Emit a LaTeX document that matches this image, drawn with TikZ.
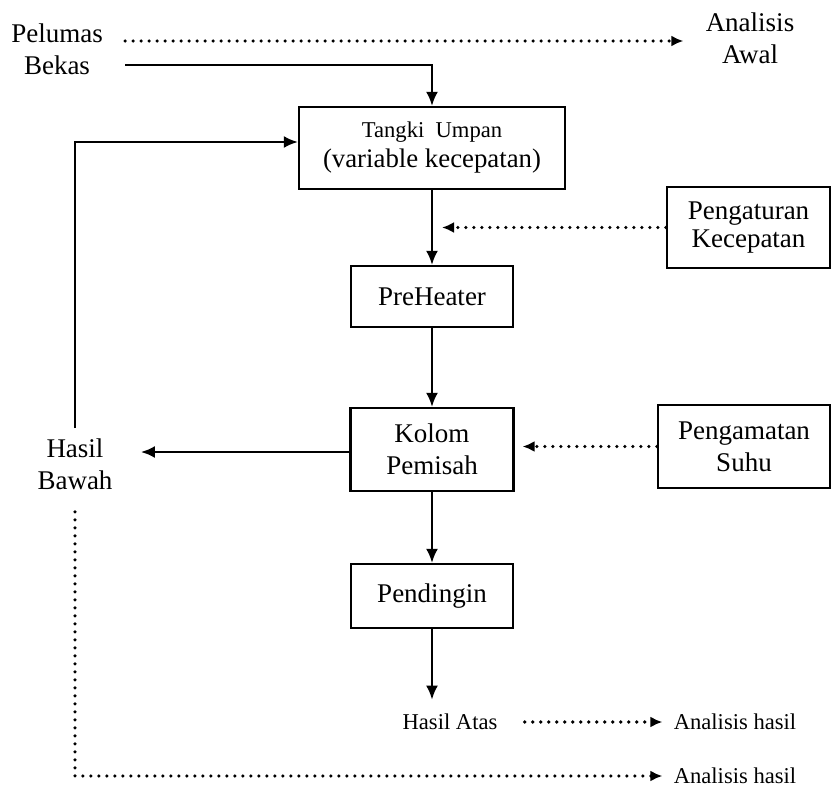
\documentclass[tikz,border=0pt]{standalone}
\usepackage{fontspec}
\setmainfont{Liberation Serif}
\usetikzlibrary{arrows.meta,calc}

\tikzset{
  kotak/.style={draw, line width=1.1pt, align=center, inner sep=0pt},
  besar/.style={font=\fontsize{13.5}{16}\selectfont, align=center, inner sep=0pt},
  kecil/.style={font=\fontsize{11.3}{13}\selectfont, inner sep=0pt},
  alir/.style={line width=1.2pt, -{Latex[length=7pt,width=6pt]}},
  titik/.style={line width=1.8pt, line cap=round, dash pattern=on 0pt off 4pt,
    -{Latex[length=6pt,width=5.5pt]}},
}

\begin{document}
\begin{tikzpicture}[x=0.5pt, y=-0.5pt]

  \useasboundingbox (0,0) rectangle (832,793);

  % bahan masuk dan analisis awal
  \node[besar] (pelumas) at (57,49) {Pelumas\\Bekas};
  \node[besar] (awal) at (750,38) {Analisis\\Awal};

  % proses utama
  \node[kotak, minimum width=133pt, minimum height=41pt] (tangki) at (432,148)
    {{\fontsize{11.3}{13}\selectfont Tangki\ \ Umpan}\\[3pt]
     \fontsize{13.4}{16}\selectfont (variable kecepatan)};
  \node[kotak, besar, minimum width=81pt, minimum height=30.5pt] (pre) at (432,296.5) {PreHeater};
  \node[kotak, besar, minimum width=81.5pt, minimum height=41.5pt] (kolom) at (432,449.5) {Kolom\\Pemisah};
  \node[kotak, besar, minimum width=81pt, minimum height=32pt] (dingin) at (432,596) {Pendingin};

  % pengendali
  \node[kotak, font=\fontsize{13.5}{14}\selectfont, minimum width=81.5pt, minimum height=40.5pt] (atur) at (748.5,227.5) {Pengaturan\\Kecepatan};
  \node[kotak, besar, minimum width=86pt, minimum height=41.5pt] (amat) at (744,446.5) {Pengamatan\\Suhu};

  % hasil
  \node[besar] (bawah) at (75,464) {Hasil\\Bawah};
  \node[kecil] (atas) at (450,722) {Hasil Atas};
  \node[kecil] (hasilA) at (735,722) {Analisis hasil};
  \node[kecil] (hasilB) at (735,776) {Analisis hasil};

  % aliran utama
  \coordinate (p1) at ($(pelumas.east)+(0,-8)$);
  \coordinate (p2) at ($(pelumas.east)+(0,16)$);
  \draw[titik, shorten <=11pt, shorten >=11pt] (p1) -- (p1 -| awal.west);
  \draw[alir, shorten <=11pt] (p2) -| (tangki.north);
  \draw[alir] (tangki.south) -- (tangki.south |- pre.north);
  \draw[alir] (pre.south) -- (pre.south |- kolom.north);
  \draw[alir] (kolom.south) -- (kolom.south |- dingin.north);
  \draw[alir, shorten >=7pt] (dingin.south) -- (dingin.south |- atas.north);

  % kendali
  \draw[titik, shorten >=5pt] (atur.west) -- (atur.west -| tangki.south);
  \draw[titik, shorten >=4pt] (amat.west) -- (amat.west -| kolom.east);

  % hasil bawah kembali ke tangki
  \coordinate (k1) at ($(kolom.west)+(0,2.5)$);
  \draw[alir, shorten >=14pt] (k1) -- (k1 -| bawah.east);
  \draw[alir, shorten <=5pt] (bawah.north) |- ($(tangki.west)+(0,-6)$);

  % analisis hasil
  \draw[titik, shorten <=13.5pt, shorten >=5.5pt] (atas.east) -- (hasilA.west);
  \draw[titik, shorten <=11pt, shorten >=5.5pt] (bawah.south) |- (hasilB.west);

\end{tikzpicture}
\end{document}
